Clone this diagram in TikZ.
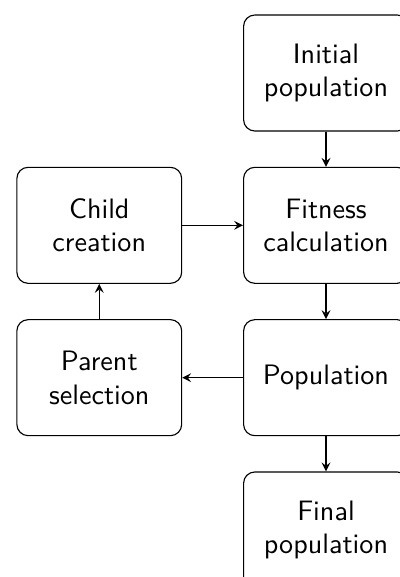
\documentclass[tikz,border=0pt]{standalone}
\usepackage{fontspec}
\usetikzlibrary{positioning}
\begin{document}
\begin{tikzpicture}[font=\sffamily]
            \tikzset{
                stage/.style={draw, rounded corners, minimum width=2.06cm, minimum height=1.45cm, text width=1.75cm, align=center},
                node distance=0.44cm and 0.76cm}
            \useasboundingbox (0,0) rectangle (4.9875,-7.2125);
            \node [stage] (init) at (4.075,-0.9125) {Initial population};
            \node [stage, below=of init] (fit) {Fitness calculation};
            \node [stage, below=of fit] (pop) {Population};
            \node [stage, below=of pop] (fin) {Final population};
            \node [stage, left=of fit] (child) {Child creation};
            \node [stage, left=of pop] (parent) {Parent selection};
            % loop
            \draw [-stealth] (init) -- (fit);
            \draw [-stealth] (fit) -- (pop);
            \draw [-stealth] (pop) -- (fin);
            \draw [-stealth] (pop) -- (parent);
            \draw [-stealth] (parent) -- (child);
            \draw [-stealth] (child) -- (fit);
        \end{tikzpicture}
\end{document}
